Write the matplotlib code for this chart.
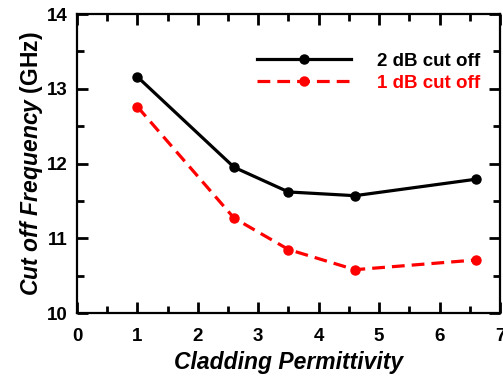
import numpy as np
import matplotlib.pyplot as plt
from matplotlib.ticker import MultipleLocator

plt.rcParams['font.family'] = ['Liberation Sans', 'DejaVu Sans']
plt.rcParams['mathtext.fontset'] = 'custom'
plt.rcParams['mathtext.it'] = 'Liberation Sans:italic:bold'
plt.rcParams['mathtext.rm'] = 'Liberation Sans:bold'

# data
permittivity = [1, 2.6, 3.5, 4.6, 6.6]
cut2db = [13.16, 11.95, 11.62, 11.57, 11.79]
cut1db = [12.76, 11.27, 10.85, 10.58, 10.71]

fig = plt.figure(figsize=(5.03, 3.79), dpi=100)
ax = fig.add_axes([0.153, 0.174, 0.841, 0.789])

ax.plot(permittivity, cut2db, '-', color='black', lw=2.3, marker='o', ms=6.5,
        label='2 dB cut off')
ax.plot(permittivity, cut1db, '--', color='red', lw=2.3, marker='o', ms=6.5,
        dashes=(4, 2.2), label='1 dB cut off')

ax.set_xlim(0, 7)
ax.set_ylim(10, 14)
ax.xaxis.set_major_locator(MultipleLocator(1))
ax.xaxis.set_minor_locator(MultipleLocator(0.5))
ax.yaxis.set_major_locator(MultipleLocator(1))
ax.yaxis.set_minor_locator(MultipleLocator(0.5))
ax.tick_params(which='both', direction='in', top=True, right=True, width=2)
ax.tick_params(which='major', length=8, labelsize=13.5)
ax.tick_params(axis='x', which='major', pad=11)
ax.tick_params(axis='y', which='major', pad=7)
ax.tick_params(which='minor', length=5)
for lab in ax.get_xticklabels() + ax.get_yticklabels():
    lab.set_fontweight('bold')
for s in ax.spines.values():
    s.set_linewidth(1.6)

ax.set_xlabel('Cladding Permittivity', fontsize=16.5, fontweight='bold',
              style='italic', labelpad=4)
ax.set_ylabel(r'$\mathit{Cut\ off\ Frequency}$ (GHz)', fontsize=16.5,
              fontweight='bold', labelpad=1)

leg = ax.legend(loc='upper right', frameon=False,
                prop={'weight': 'bold', 'size': 13.5}, labelcolor='linecolor',
                handlelength=5.0, handletextpad=1.4, labelspacing=0.25,
                borderaxespad=0.3, bbox_to_anchor=(0.985, 0.915))

fig.savefig('out.png', dpi=100)
